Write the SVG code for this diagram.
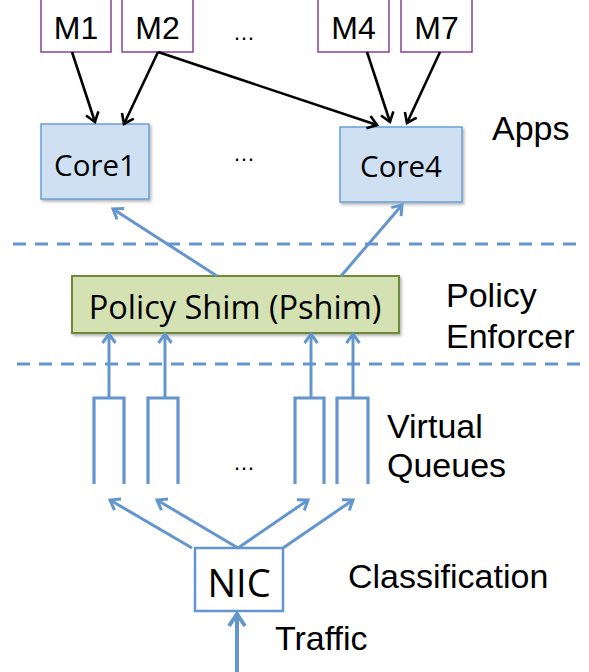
<svg xmlns="http://www.w3.org/2000/svg" width="589" height="672" viewBox="0 0 589 672">
<style>
.mbox{fill:#fff;stroke:#8a3f94;stroke-width:1.5}
.mt{font-family:"Liberation Sans",Arial,sans-serif;font-size:32px;fill:#000;text-anchor:middle}
.core{fill:#cfe0f2;stroke:#6b9fd3;stroke-width:1.5}
.ct{font-family:"Open Sans",sans-serif;font-size:29.5px;fill:#000;text-anchor:middle}
.lbl{font-family:"Liberation Sans",Arial,sans-serif;font-size:34px;fill:#000}
.dots{font-family:"Liberation Sans",Arial,sans-serif;font-size:22px;fill:#000;text-anchor:middle}
.blk{stroke:#000;stroke-width:2.6;fill:none}
.blu{stroke:#6496cd;stroke-width:3;fill:none}
.dash{stroke:#6496cd;stroke-width:3;stroke-dasharray:13 9;fill:none}
.q{stroke:#6496cd;stroke-width:3.2;fill:none}
</style>
<defs>
<marker id="ak" markerUnits="userSpaceOnUse" orient="auto" overflow="visible" markerWidth="20" markerHeight="20" refX="0" refY="0"><path d="M-9,-6.5 L0,0 L-9,6.5" fill="none" stroke="#000" stroke-width="2.6"/></marker>
<marker id="ab" markerUnits="userSpaceOnUse" orient="auto" overflow="visible" markerWidth="20" markerHeight="20" refX="0" refY="0"><path d="M-9,-6.5 L0,0 L-9,6.5" fill="none" stroke="#6496cd" stroke-width="3"/></marker>
<marker id="abig" markerUnits="userSpaceOnUse" orient="auto" overflow="visible" markerWidth="24" markerHeight="24" refX="0" refY="0"><path d="M-12,-8 L0,0 L-12,8" fill="none" stroke="#6496cd" stroke-width="4"/></marker>
<filter id="sh" x="-10%" y="-10%" width="130%" height="130%"><feDropShadow dx="1.5" dy="2" stdDeviation="1.5" flood-color="#000" flood-opacity="0.3"/></filter>
</defs>

<g id="dividers">
<line class="dash" x1="13" y1="244" x2="580" y2="244"/>
<line class="dash" x1="17" y1="364" x2="580" y2="364"/>
</g>

<g id="M1"><rect class="mbox" x="41" y="-3" width="70" height="55"/><text class="mt" x="76" y="39">M1</text></g>
<g id="M2"><rect class="mbox" x="122" y="-3" width="71" height="55"/><text class="mt" x="157.5" y="39">M2</text></g>
<g id="M4"><rect class="mbox" x="318" y="-3" width="71" height="55"/><text class="mt" x="353.5" y="39">M4</text></g>
<g id="M7"><rect class="mbox" x="401" y="-3" width="71" height="55"/><text class="mt" x="436.5" y="39">M7</text></g>
<text class="dots" x="244" y="40">…</text>

<g id="Core1"><rect class="core" x="41" y="124" width="108" height="75" filter="url(#sh)"/><text class="ct" x="95" y="176">Core1</text></g>
<text class="dots" x="244" y="161">…</text>
<g id="Core4"><rect class="core" x="340" y="127" width="122" height="75" filter="url(#sh)"/><text class="ct" x="401" y="177">Core4</text></g>

<g id="Pshim"><rect x="72" y="276" width="327" height="57" fill="#d3e1b3" stroke="#6e8a37" stroke-width="2" filter="url(#sh)"/><text x="235" y="319" font-family="'Open Sans',sans-serif" font-size="32.5" text-anchor="middle" fill="#000">Policy Shim (Pshim)</text></g>

<g id="queues">
<path class="q" d="M94,484 V398 H124 V484"/>
<path class="q" d="M148,484 V398 H178 V484"/>
<path class="q" d="M295,484 V398 H324 V484"/>
<path class="q" d="M337,484 V398 H368 V484"/>
</g>
<text class="dots" x="244" y="470">…</text>

<g id="NIC"><rect x="195" y="548" width="88" height="63" fill="#fff" stroke="#6496cd" stroke-width="2.5"/><text x="239" y="597" font-family="'Open Sans',sans-serif" font-size="38" text-anchor="middle" fill="#000">NIC</text></g>

<g id="labels">
<text class="lbl" x="492" y="140">Apps</text>
<text class="lbl" x="446" y="307">Policy</text>
<text class="lbl" x="446" y="348">Enforcer</text>
<text class="lbl" x="387" y="438">Virtual</text>
<text class="lbl" x="387" y="477">Queues</text>
<text class="lbl" x="348" y="588">Classification</text>
<text class="lbl" x="275" y="650">Traffic</text>
</g>

<g id="connectors">
<line class="blk" x1="72" y1="52" x2="95" y2="122" marker-end="url(#ak)"/>
<line class="blk" x1="158" y1="52" x2="124" y2="124" marker-end="url(#ak)"/>
<line class="blk" x1="158" y1="52" x2="377" y2="125" marker-end="url(#ak)"/>
<line class="blk" x1="367" y1="52" x2="390" y2="122" marker-end="url(#ak)"/>
<line class="blk" x1="440" y1="52" x2="407" y2="123" marker-end="url(#ak)"/>

<line class="blu" x1="217" y1="276" x2="113" y2="209" marker-end="url(#ab)"/>
<line class="blu" x1="341" y1="276" x2="402" y2="205" marker-end="url(#ab)"/>

<line class="blu" x1="109" y1="398" x2="109" y2="334" marker-end="url(#ab)"/>
<line class="blu" x1="165" y1="398" x2="165" y2="334" marker-end="url(#ab)"/>
<line class="blu" x1="311" y1="398" x2="311" y2="334" marker-end="url(#ab)"/>
<line class="blu" x1="353" y1="398" x2="353" y2="334" marker-end="url(#ab)"/>

<line class="blu" x1="192" y1="548" x2="110" y2="500" marker-end="url(#ab)"/>
<line class="blu" x1="238" y1="548" x2="157" y2="500" marker-end="url(#ab)"/>
<line class="blu" x1="238" y1="548" x2="308" y2="500" marker-end="url(#ab)"/>
<line class="blu" x1="283" y1="548" x2="353" y2="500" marker-end="url(#ab)"/>

<line x1="237" y1="672" x2="237" y2="614" stroke="#6496cd" stroke-width="4" marker-end="url(#abig)"/>
</g>
</svg>
